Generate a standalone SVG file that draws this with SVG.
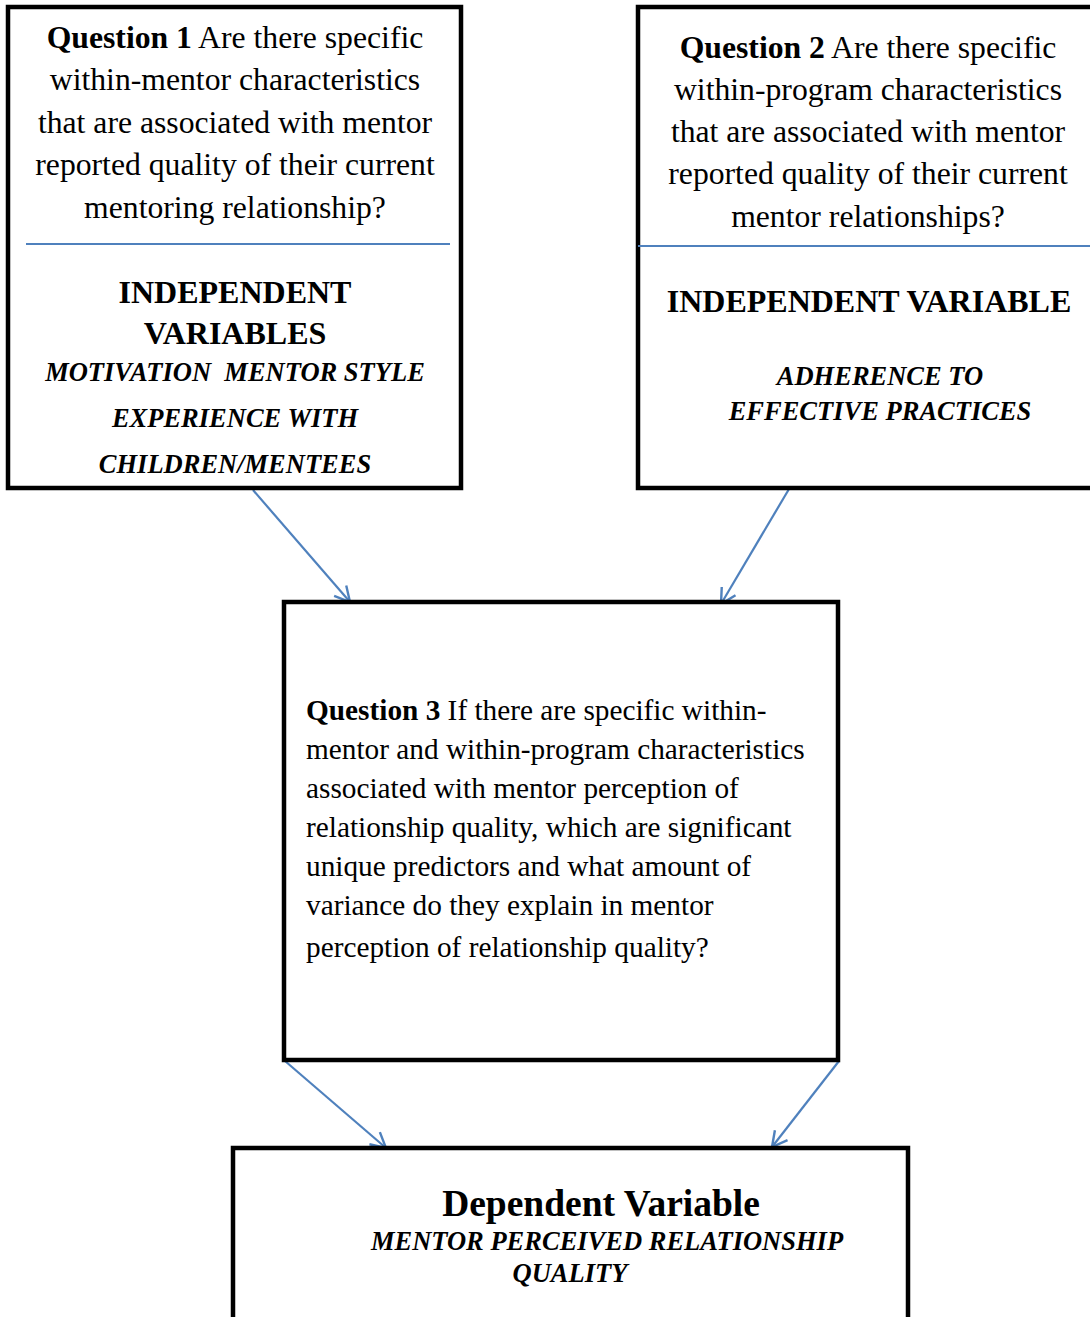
<svg xmlns="http://www.w3.org/2000/svg" width="1090" height="1317" viewBox="0 0 1090 1317">
<style>
.box{fill:#fff;stroke:#000;stroke-width:4.5}
.div{stroke:#4F81BD;stroke-width:2}
.t{font-family:"Liberation Serif","Times New Roman",serif;fill:#000}
.q{font-size:31.7px}
.q3{font-size:29.3px}
.h{font-size:32px;font-weight:bold}
.v{font-size:26.5px;font-weight:bold;font-style:italic}
.c{text-anchor:middle}
.con{stroke:#4F81BD;stroke-width:2.2;fill:none;marker-end:url(#ah)}
</style>
<defs>
<marker id="ah" markerUnits="userSpaceOnUse" markerWidth="24" markerHeight="24" viewBox="0 0 24 24" refX="21" refY="12" orient="auto">
<path d="M6,4 L21,12 L6,20" fill="none" stroke="#4F81BD" stroke-width="2.4"/>
</marker>
</defs>
<rect width="1090" height="1317" fill="#fff"/>
<g id="connectors">
<line class="con" x1="253" y1="490" x2="350" y2="602"/>
<line class="con" x1="789" y1="489" x2="721" y2="604"/>
<line class="con" x1="285" y1="1061" x2="386" y2="1148"/>
<line class="con" x1="839" y1="1061" x2="772" y2="1147"/>
</g>
<g id="q1">
<rect class="box" x="8" y="7" width="453" height="481"/>
<line class="div" x1="26" y1="244" x2="450" y2="244"/>
<text class="t q c" x="235" y="48"><tspan font-weight="bold">Question 1</tspan> Are there specific</text>
<text class="t q c" x="235" y="90">within-mentor characteristics</text>
<text class="t q c" x="235" y="133">that are associated with mentor</text>
<text class="t q c" x="235" y="175">reported quality of their current</text>
<text class="t q c" x="235" y="218">mentoring relationship?</text>
<text class="t h c" x="235" y="303">INDEPENDENT</text>
<text class="t h c" x="235" y="344">VARIABLES</text>
<text class="t v c" x="235" y="381" xml:space="preserve" style="white-space:pre">MOTIVATION  MENTOR STYLE</text>
<text class="t v c" x="235" y="427">EXPERIENCE WITH</text>
<text class="t v c" x="235" y="473">CHILDREN/MENTEES</text>
</g>
<g id="q2">
<rect class="box" x="638" y="7" width="470" height="481"/>
<line class="div" x1="638" y1="246" x2="1090" y2="246"/>
<text class="t q c" x="868" y="58"><tspan font-weight="bold">Question 2</tspan> Are there specific</text>
<text class="t q c" x="868" y="100">within-program characteristics</text>
<text class="t q c" x="868" y="142">that are associated with mentor</text>
<text class="t q c" x="868" y="184">reported quality of their current</text>
<text class="t q c" x="868" y="227">mentor relationships?</text>
<text class="t h c" x="869" y="312">INDEPENDENT VARIABLE</text>
<text class="t v c" x="880" y="385">ADHERENCE TO</text>
<text class="t v c" x="880" y="420">EFFECTIVE PRACTICES</text>
</g>
<g id="q3">
<rect class="box" x="284" y="602" width="554" height="458"/>
<text class="t q3" x="306" y="720"><tspan font-weight="bold">Question 3</tspan> If there are specific within-</text>
<text class="t q3" x="306" y="759">mentor and within-program characteristics</text>
<text class="t q3" x="306" y="798">associated with mentor perception of</text>
<text class="t q3" x="306" y="837">relationship quality, which are significant</text>
<text class="t q3" x="306" y="876">unique predictors and what amount of</text>
<text class="t q3" x="306" y="915">variance do they explain in mentor</text>
<text class="t q3" x="306" y="957">perception of relationship quality?</text>
</g>
<g id="dv">
<rect class="box" x="233" y="1148" width="675" height="200"/>
<text class="t c" x="601" y="1216" font-size="37.5px" font-weight="bold">Dependent Variable</text>
<text class="t v c" x="607" y="1250" font-size="27px">MENTOR PERCEIVED RELATIONSHIP</text>
<text class="t v c" x="570" y="1282" font-size="27px">QUALITY</text>
</g>
</svg>
